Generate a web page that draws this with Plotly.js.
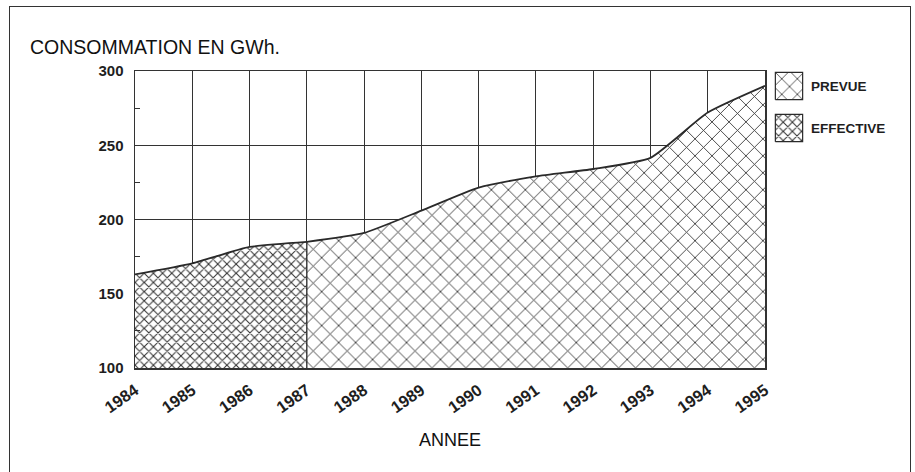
<!DOCTYPE html>
<html><head><meta charset="utf-8">
<script src="https://cdn.plot.ly/plotly-3.0.1.min.js"></script>
<style>
html,body{margin:0;padding:0;background:#fff;overflow:hidden}
#wrap{position:relative;width:915px;height:472px}
#chart{width:915px;height:472px}
#frame{position:absolute;left:9px;top:6px;width:900px;height:520px;border:1.5px solid #333;pointer-events:none}
</style></head><body>
<div id="wrap"><div id="chart"></div><div id="frame"></div></div>
<script>
// ---- data ----
const yearTicks = [1984,1985,1986,1987,1988,1989,1990,1991,1992,1993,1994,1995];
const effectiveYears = [1984,1985,1986,1987];
const effectiveValues = [163,170.5,181.5,185];
const prevueYears = [1987,1988,1989,1990,1991,1992,1993,1994,1995];
const prevueValues = [185,191,206,221.5,229,234,241.5,272,290];
const seriesNames = ['PREVUE','EFFECTIVE'];
const yMin = 100, yMax = 300;

// ---- geometry helpers (pixel -> paper) ----
const L = 135, R = 5, T = 71, B = 104, W = 915, H = 472;
const PW = W - L - R, PH = H - T - B;
const dx = p => (p - L) / PW;
const dy = p => (H - B - p) / PH;

const ink = '#2a2a2a';
const patEff = {shape:'x', size:6.5, solidity:0.3, fgcolor:'#333', bgcolor:'white'};
const patPrev = {shape:'x', size:12, solidity:0.14, fgcolor:'#333', bgcolor:'white'};
const lineStyle = {color:ink, width:1.8, shape:'spline', smoothing:0.5};

const traces = [
  {x:effectiveYears, y:effectiveValues, type:'scatter', mode:'lines', line:lineStyle,
   fill:'tozeroy', fillcolor:'white', fillpattern:patEff, hoverinfo:'skip', showlegend:false},
  {x:prevueYears, y:prevueValues, type:'scatter', mode:'lines', line:lineStyle,
   fill:'tozeroy', fillcolor:'white', fillpattern:patPrev, hoverinfo:'skip', showlegend:false},
  {x:[effectiveYears[effectiveYears.length-1], effectiveYears[effectiveYears.length-1]],
   y:[yMin, effectiveValues[effectiveValues.length-1]], type:'scatter', mode:'lines',
   line:{color:ink, width:1.3}, hoverinfo:'skip', showlegend:false},
  // legend swatches
  {x:[0,1,1,0,0], y:[0,0,1,1,0], xaxis:'x2', yaxis:'y2', type:'scatter', mode:'lines',
   line:{color:ink, width:1.2}, fill:'toself', fillcolor:'white', fillpattern:Object.assign({}, patPrev, {size:11}),
   hoverinfo:'skip', showlegend:false},
  {x:[0,1,1,0,0], y:[0,0,1,1,0], xaxis:'x3', yaxis:'y3', type:'scatter', mode:'lines',
   line:{color:ink, width:1.2}, fill:'toself', fillcolor:'white', fillpattern:Object.assign({}, patEff, {size:6.5}),
   hoverinfo:'skip', showlegend:false}
];

const fam = '"Liberation Sans", Arial, sans-serif';
const fontReg = {family:fam, color:'#111', weight:'normal'};
const fontBold = {family:fam, color:'#1e1e1e', weight:'bold'};
const hidden = {visible:false, range:[-0.05,1.05], fixedrange:true};

const layout = {
  width:W, height:H,
  margin:{l:L, r:R, t:T, b:B, pad:0},
  paper_bgcolor:'white', plot_bgcolor:'white',
  font:Object.assign({size:15}, fontReg),
  showlegend:false,
  title:{text:'CONSOMMATION EN GWh.', xref:'container', yref:'container',
         x:30/W, xanchor:'left', y:1-47/H, yanchor:'middle',
         font:Object.assign({}, fontReg, {size:19.5})},
  xaxis:{domain:[0, dx(765)], range:[yearTicks[0], yearTicks[yearTicks.length-1]],
         tickvals:yearTicks, ticktext:yearTicks.map(String), tickangle:-35,
         showgrid:true, gridcolor:'#333', gridwidth:1, zeroline:false,
         showline:true, mirror:true, linecolor:'#333', linewidth:1.5,
         ticks:'', ticklabelstandoff:5, tickfont:Object.assign({}, fontBold, {size:16.5}),
         title:{text:'ANNEE', font:Object.assign({}, fontReg, {size:18}), standoff:18}, fixedrange:true, automargin:false},
  yaxis:{range:[yMin, yMax], tick0:yMin, dtick:50,
         showgrid:true, gridcolor:'#333', gridwidth:1, zeroline:false,
         showline:true, mirror:true, linecolor:'#333', linewidth:1.5,
         ticks:'', ticklabelstandoff:7, tickfont:Object.assign({}, fontBold, {size:15}),
         minor:{tick0:yMin, dtick:25, ticks:'inside', ticklen:5, tickcolor:'#333', showgrid:false},
         fixedrange:true, automargin:false},
  xaxis2:Object.assign({domain:[dx(774), dx(804)], anchor:'y2'}, hidden),
  yaxis2:Object.assign({domain:[dy(101), dy(71)], anchor:'x2'}, hidden),
  xaxis3:Object.assign({domain:[dx(774), dx(804)], anchor:'y3'}, hidden),
  yaxis3:Object.assign({domain:[dy(143), dy(113)], anchor:'x3'}, hidden),
  annotations:[
    {text:seriesNames[0], xref:'paper', yref:'paper', x:dx(809), y:dy(86), xanchor:'left', yanchor:'middle',
     showarrow:false, font:Object.assign({}, fontBold, {size:13.5})},
    {text:seriesNames[1], xref:'paper', yref:'paper', x:dx(809), y:dy(128), xanchor:'left', yanchor:'middle',
     showarrow:false, font:Object.assign({}, fontBold, {size:13.5})}
  ]
};

Plotly.newPlot('chart', traces, layout, {staticPlot:true, displayModeBar:false});
</script></body></html>
